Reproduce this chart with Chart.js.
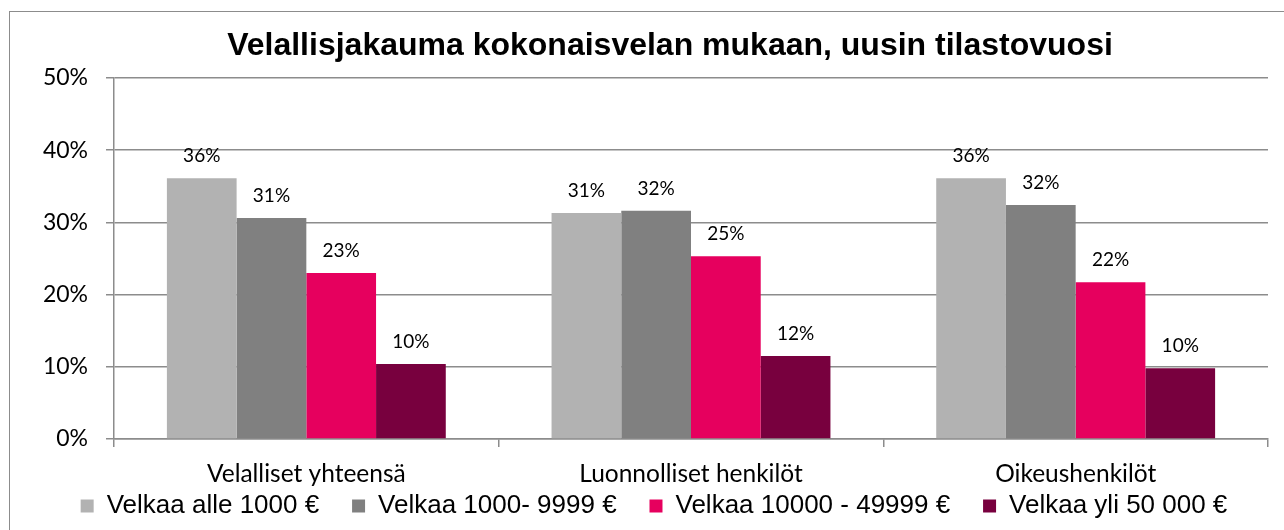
<!DOCTYPE html>
<html>
<head>
<meta charset="utf-8">
<script src="https://cdn.jsdelivr.net/npm/chart.js@4"></script>
<style>
  html, body { margin: 0; padding: 0; background: #fff; overflow: hidden; }
  #wrap { position: relative; width: 1284px; height: 530px; }
  #frame { position: absolute; left: 9px; top: 11px; width: 1400px; height: 700px;
           border: 1.5px solid #8c8c8c; box-sizing: border-box; pointer-events: none; }
  canvas { position: absolute; left: 0; top: 0; }
</style>
</head>
<body>
<div id="wrap">
  <canvas id="c" width="1284" height="530"></canvas>
  <div id="frame"></div>
</div>
<script>
const title = 'Velallisjakauma kokonaisvelan mukaan, uusin tilastovuosi';
const categories = ['Velalliset yhteensä', 'Luonnolliset henkilöt', 'Oikeushenkilöt'];
const seriesNames = ['Velkaa alle 1000 €', 'Velkaa 1000- 9999 €', 'Velkaa 10000 - 49999 €', 'Velkaa yli 50 000 €'];
const under1000 = [36.1, 31.3, 36.1];
const from1000 = [30.6, 31.6, 32.4];
const from10000 = [23.0, 25.3, 21.7];
const over50000 = [10.4, 11.5, 9.8];
const yTicks = [0, 10, 20, 30, 40, 50];
const colors = ['#b2b2b2', '#808080', '#e6005e', '#78003e'];

const seriesValues = [under1000, from1000, from10000, over50000];

const valueLabels = {
  id: 'valueLabels',
  afterDatasetsDraw(chart) {
    const ctx = chart.ctx;
    ctx.save();
    ctx.font = '19px Lato';
    ctx.fillStyle = '#000';
    ctx.textAlign = 'center';
    ctx.textBaseline = 'alphabetic';
    chart.data.datasets.forEach((ds, di) => {
      const meta = chart.getDatasetMeta(di);
      meta.data.forEach((bar, i) => {
        ctx.fillText(Math.round(ds.data[i]) + '%', bar.x, bar.y - 16);
      });
    });
    ctx.restore();
  }
};

// shift the title block so it is centred over the plot like the original
const titleShift = {
  id: 'titleShift',
  afterLayout(chart) {
    if (chart.titleBlock) chart.titleBlock.left += 32;
  }
};

const GAP = '\u00a0\u00a0\u00a0\u00a0';

new Chart(document.getElementById('c'), {
  type: 'bar',
  data: {
    labels: categories,
    datasets: seriesNames.map((n, i) => ({
      label: n,
      data: seriesValues[i],
      backgroundColor: colors[i],
      borderWidth: 0,
      categoryPercentage: 0.725,
      barPercentage: 1.0
    }))
  },
  options: {
    responsive: false,
    animation: false,
    devicePixelRatio: 1,
    layout: { padding: { top: 27, left: 40, right: 16, bottom: 1 } },
    plugins: {
      title: {
        display: true, text: title, color: '#000',
        font: { family: 'Liberation Sans', size: 32, weight: 'bold', lineHeight: 1.2 },
        padding: { top: 0, bottom: 12.6 }
      },
      legend: {
        position: 'bottom',
        labels: {
          color: '#000',
          font: { family: 'Liberation Sans', size: 26 },
          boxWidth: 13, boxHeight: 13, padding: 4,
          generateLabels(chart) {
            const items = Chart.defaults.plugins.legend.labels.generateLabels(chart);
            items.forEach((it, i) => {
              it.lineWidth = 0;
              if (i < items.length - 1) it.text = it.text + GAP;
            });
            return items;
          }
        }
      },
      tooltip: { enabled: false }
    },
    scales: {
      x: {
        grid: { display: true, drawOnChartArea: false, drawTicks: true, tickLength: 8, color: '#8c8c8c', lineWidth: 1.5, offset: true },
        border: { display: true, color: '#8c8c8c', width: 1.5 },
        ticks: { color: '#000', font: { family: 'Lato', size: 24.5 }, padding: 12 },
        afterFit(s) { s.height = 50; }
      },
      y: {
        min: 0, max: 50,
        afterBuildTicks(s) { s.ticks = yTicks.map(v => ({ value: v })); },
        grid: { color: '#8c8c8c', lineWidth: 1.5, tickLength: 8 },
        border: { display: true, color: '#8c8c8c', width: 1.5 },
        ticks: { color: '#000', font: { family: 'Lato', size: 23 }, padding: 18, callback: v => v + '%' },
        afterFit(s) { s.width = 74; }
      }
    }
  },
  plugins: [valueLabels, titleShift]
});
</script>
</body>
</html>
